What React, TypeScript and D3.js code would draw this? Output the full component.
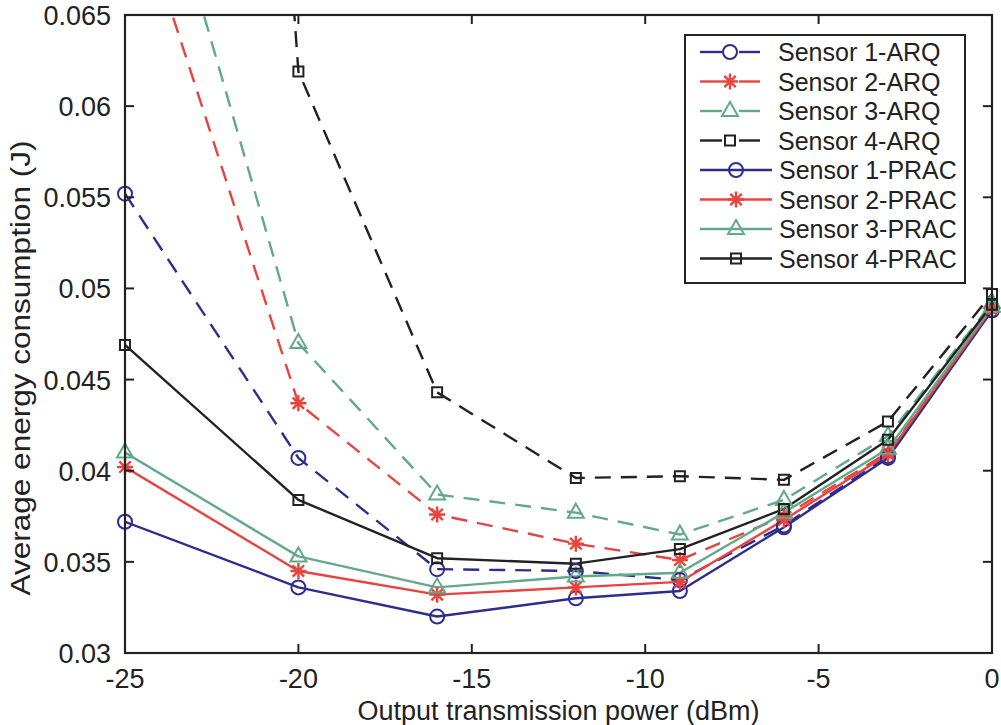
import React from 'react';
import * as d3 from 'd3';

// transmission power levels (dBm)
const powers = [-25, -20, -16, -12, -9, -6, -3, 0];

// average energy consumption (J)
const arq1 = [0.0552, 0.0407, 0.0346, 0.0345, 0.034, 0.037, 0.0408, 0.0488];
const arq2 = [0.073, 0.0437, 0.0376, 0.036, 0.0351, 0.0375, 0.041, 0.0488];
const arq3 = [0.08, 0.047, 0.0387, 0.0377, 0.0365, 0.0384, 0.0419, 0.0492];
const arq4 = [0.195, 0.0619, 0.0443, 0.0396, 0.0397, 0.0395, 0.0427, 0.0497];
const prac1 = [0.0372, 0.0336, 0.032, 0.033, 0.0334, 0.0369, 0.0407, 0.0488];
const prac2 = [0.0402, 0.0345, 0.0332, 0.0336, 0.0339, 0.0373, 0.0409, 0.0489];
const prac3 = [0.041, 0.0353, 0.0336, 0.0342, 0.0344, 0.0377, 0.0412, 0.049];
const prac4 = [0.0469, 0.0384, 0.0352, 0.0349, 0.0357, 0.0379, 0.0417, 0.0491];

const xTicks = [-25, -20, -15, -10, -5, 0];
const yTicks = [0.03, 0.035, 0.04, 0.045, 0.05, 0.055, 0.06, 0.065];

const BLUE = '#2e2d8e';
const RED = '#e8433f';
const GREEN = '#62a98b';
const BLACK = '#222';

type Marker = 'circle' | 'star' | 'triangle' | 'square';

const series: {name: string; values: number[]; color: string; dashed: boolean; marker: Marker}[] = [
  {name: 'Sensor 1-ARQ', values: arq1, color: BLUE, dashed: true, marker: 'circle'},
  {name: 'Sensor 2-ARQ', values: arq2, color: RED, dashed: true, marker: 'star'},
  {name: 'Sensor 3-ARQ', values: arq3, color: GREEN, dashed: true, marker: 'triangle'},
  {name: 'Sensor 4-ARQ', values: arq4, color: BLACK, dashed: true, marker: 'square'},
  {name: 'Sensor 1-PRAC', values: prac1, color: BLUE, dashed: false, marker: 'circle'},
  {name: 'Sensor 2-PRAC', values: prac2, color: RED, dashed: false, marker: 'star'},
  {name: 'Sensor 3-PRAC', values: prac3, color: GREEN, dashed: false, marker: 'triangle'},
  {name: 'Sensor 4-PRAC', values: prac4, color: BLACK, dashed: false, marker: 'square'},
];

const W = 1001, H = 725;
const margin = {top: 15, right: 9, bottom: 72, left: 125};
const FONT = '"Liberation Sans", Arial, sans-serif';

function markerPath(m: Marker) {
  if (m === 'circle') return 'M7,0A7,7 0 1,1 -7,0A7,7 0 1,1 7,0Z';
  if (m === 'square') return 'M-5,-5H5V5H-5Z';
  if (m === 'triangle') return 'M0,-9L8,5H-8Z';
  // asterisk: plus + cross
  return 'M0,-8V8M-8,0H8M-5.7,-5.7L5.7,5.7M-5.7,5.7L5.7,-5.7';
}

function MarkerGlyph({m, x, y, color}: {m: Marker; x: number; y: number; color: string}) {
  return (
    <path d={markerPath(m)} transform={`translate(${x},${y})`} fill="none"
      stroke={color} strokeWidth={m === 'star' ? 2.4 : 2} />
  );
}

export default function App() {
  const x = d3.scaleLinear().domain([-25, 0]).range([margin.left, W - margin.right]);
  const y = d3.scaleLinear().domain([0.03, 0.065]).range([H - margin.bottom, margin.top]);
  const [x0, x1] = x.range();
  const [y0, y1] = y.range();

  const line = d3.line<number>()
    .x((_, i) => x(powers[i]))
    .y(d => y(d));

  const legX = 685, legY = 35, legW = 280, legH = 248, rowH = 29.5;

  return (
    <svg width={W} height={H} style={{position: 'absolute', left: 0, top: 0, background: '#fff'}}
      fontFamily={FONT}>
      <defs>
        <clipPath id="plot">
          <rect x={x0} y={y1} width={x1 - x0} height={y0 - y1} />
        </clipPath>
      </defs>

      {/* series lines */}
      <g clipPath="url(#plot)">
        {series.map(s => (
          <path key={s.name} d={line(s.values) || ''} fill="none" stroke={s.color}
            strokeWidth={2.4} strokeDasharray={s.dashed ? '16,10' : undefined}
            strokeLinejoin="round" />
        ))}
      </g>

      {/* markers */}
      {series.map(s => (
        <g key={s.name + '-m'}>
          {s.values.map((v, i) => v <= 0.065 ? (
            <MarkerGlyph key={i} m={s.marker} x={x(powers[i])} y={y(v)} color={s.color} />
          ) : null)}
        </g>
      ))}

      {/* box and ticks */}
      <rect x={x0} y={y1} width={x1 - x0} height={y0 - y1} fill="none" stroke={BLACK} strokeWidth={2.2} />
      {xTicks.map(t => (
        <g key={'x' + t}>
          <line x1={x(t)} x2={x(t)} y1={y0} y2={y0 - 9} stroke={BLACK} strokeWidth={2} />
          <line x1={x(t)} x2={x(t)} y1={y1} y2={y1 + 9} stroke={BLACK} strokeWidth={2} />
          <text x={x(t)} y={y0 + 35} textAnchor="middle" fontSize={27} fill={BLACK}>{t}</text>
        </g>
      ))}
      {yTicks.map(t => (
        <g key={'y' + t}>
          <line x1={x0} x2={x0 + 9} y1={y(t)} y2={y(t)} stroke={BLACK} strokeWidth={2} />
          <line x1={x1} x2={x1 - 9} y1={y(t)} y2={y(t)} stroke={BLACK} strokeWidth={2} />
          <text x={x0 - 14} y={y(t) + 10} textAnchor="end" fontSize={27} fill={BLACK}>{d3.format('')(t)}</text>
        </g>
      ))}

      {/* axis titles */}
      <text x={(x0 + x1) / 2} y={H - 5} textAnchor="middle" fontSize={27} fill={BLACK}>
        Output transmission power (dBm)
      </text>
      <text transform="translate(30,368) rotate(-90)" textAnchor="middle" fontSize={27} fill={BLACK}
        textLength={455} lengthAdjust="spacingAndGlyphs">
        Average energy consumption (J)
      </text>

      {/* legend */}
      <rect x={legX} y={legY} width={legW} height={legH} fill="#fff" stroke={BLACK} strokeWidth={2} />
      {series.map((s, i) => {
        const cy = legY + 17 + i * rowH;
        const lx2 = s.dashed ? 760 : 772;
        const mx = s.dashed ? 730 : 736;
        return (
          <g key={s.name + '-leg'}>
            {s.dashed ? (
              <>
                <line x1={700} x2={722} y1={cy} y2={cy} stroke={s.color} strokeWidth={2.4} />
                <line x1={739} x2={lx2} y1={cy} y2={cy} stroke={s.color} strokeWidth={2.4} />
              </>
            ) : (
              <line x1={700} x2={lx2} y1={cy} y2={cy} stroke={s.color} strokeWidth={2.4} />
            )}
            <MarkerGlyph m={s.marker} x={mx} y={cy} color={s.color} />
            <text x={s.dashed ? 778 : 779} y={cy + 9} fontSize={25} fill={BLACK}>{s.name}</text>
          </g>
        );
      })}
    </svg>
  );
}
